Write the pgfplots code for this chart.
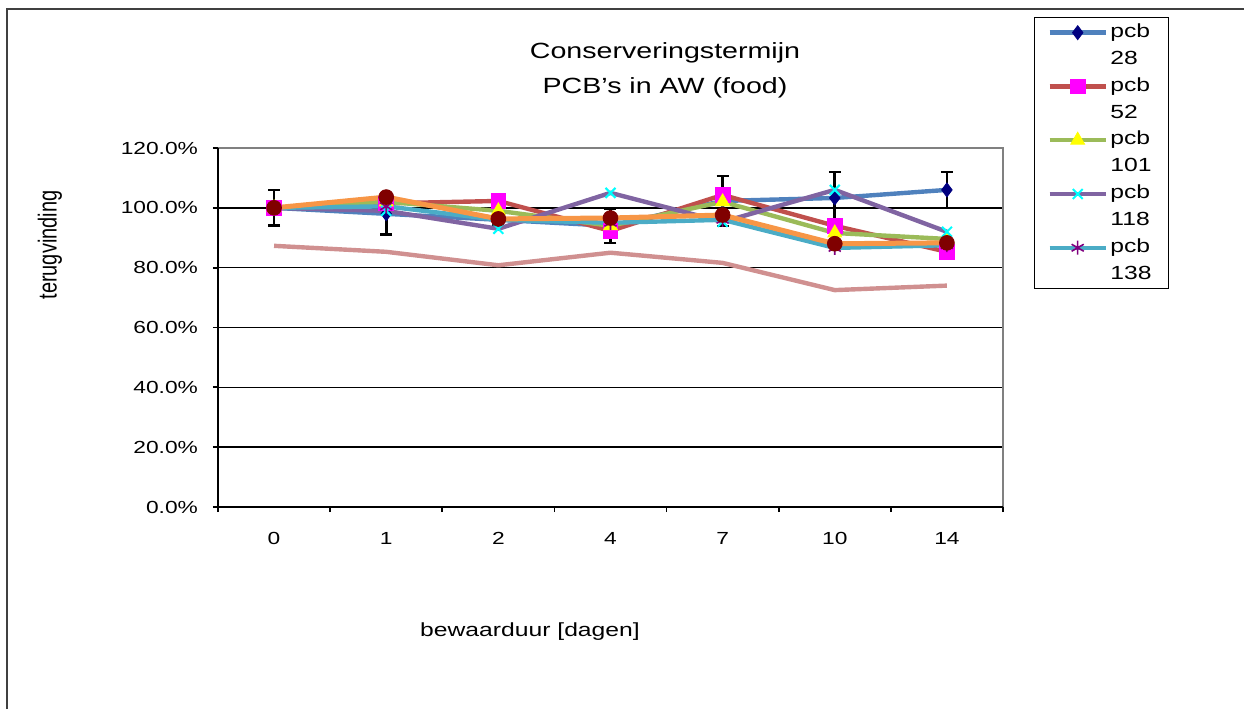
\documentclass[border=0pt]{standalone}
\usepackage{fontspec}
\setmainfont{Liberation Sans}[FakeStretch=1.3]
\newfontfamily\plainsans{Liberation Sans}
\usepackage{graphicx}
\usepackage{pgfplots}
\pgfplotsset{compat=1.18}
\definecolor{c1}{HTML}{4F81BD}
\definecolor{c2}{HTML}{C0504D}
\definecolor{c3}{HTML}{9BBB59}
\definecolor{c4}{HTML}{8064A2}
\definecolor{c5}{HTML}{4BACC6}
\definecolor{c6}{HTML}{F79646}
\definecolor{c7}{RGB}{208,144,144}
\definecolor{mnavy}{RGB}{0,0,128}
\definecolor{mmag}{RGB}{255,0,255}
\definecolor{myel}{RGB}{255,255,0}
\definecolor{mcyan}{RGB}{0,255,255}
\definecolor{mpurp}{RGB}{128,0,128}
\definecolor{mbrown}{RGB}{128,0,0}
\definecolor{bordergray}{RGB}{128,128,128}
\begin{document}
\begin{tikzpicture}
\path[use as bounding box] (0,0) rectangle (622pt,354.5pt);
\draw[black!75, line width=0.6pt] (3.5pt,0) -- (3.5pt,350pt) -- (622pt,350pt);
\begin{axis}[
  at={(109pt,101pt)}, anchor=south west,
  scale only axis, width=392.5pt, height=179.5pt,
  xmin=-0.5, xmax=6.5, ymin=0, ymax=120,
  xtick={0,...,6}, xticklabels={0,1,2,4,7,10,14},
  minor xtick={-0.5,0.5,...,6.5},
  ytick={0,20,...,120},
  yticklabels={0.0\%,20.0\%,40.0\%,60.0\%,80.0\%,100.0\%,120.0\%},
  ymajorgrids, major grid style={black, line width=0.7pt},
  axis line style={draw=none},
  tick align=outside, major tick length=2.5pt, minor tick length=2.5pt,
  tick style={black, line width=0.9pt},
  major x tick style={draw=none},
  xtick pos=bottom, ytick pos=left,
  clip=false,
  /pgf/number format/assume math mode=true,
  ticklabel style={font=\fontsize{8.75}{10}\selectfont},
  xticklabel style={yshift=-6.5pt},
  yticklabel style={xshift=-4pt},
  legend style={at={(1.0395,1.3649)}, anchor=north west, draw=black, line width=0.5pt,
    inner xsep=6.5pt, inner ysep=1pt, row sep=1pt, column sep=-0.75pt,
    font=\fontsize{9.5}{13.5}\selectfont,
    cells={anchor=base west, align=left, inner sep=0pt}},
  legend image code/.code={\draw[mark repeat=2, mark phase=2, #1] plot coordinates {(0pt,15.8pt)(14pt,15.8pt)(28pt,15.8pt)};},
]
\addplot[c1, line width=2.2pt, mark=diamond*, mark size=3.5pt,
  mark options={fill=mnavy, draw=mnavy, line width=0.4pt},
  error bars/.cd, y dir=both, y explicit,
  error bar style={black, line width=1.3pt},
  error mark options={black, line width=1.3pt, mark size=3pt, rotate=90}]
  coordinates {(0,100) +- (0,6) (1,98) +- (0,7) (2,96) +- (0,2) (3,94) +- (0,5.8)
               (4,102.3) +- (0,8.4) (5,103.3) +- (0,8.7) (6,106) +- (0,6)};
\addlegendentry{pcb\\28}
\addplot[c2, line width=2.2pt, mark=square*, mark size=3.7pt,
  mark options={fill=mmag, draw=mmag, line width=0.4pt}]
  coordinates {(0,100) (1,101.5) (2,102.3) (3,92.3) (4,104.3) (5,94) (6,85.3)};
\addlegendentry{pcb\\52}
\addplot[c3, line width=2.2pt, mark=triangle*, mark size=4pt,
  mark options={fill=myel, draw=myel, line width=0.4pt}]
  coordinates {(0,100) (1,102) (2,99) (3,94) (4,102) (5,91.6) (6,89.6)};
\addlegendentry{pcb\\101}
\addplot[c4, line width=2.2pt, mark=x, mark size=3.5pt,
  mark options={draw=mcyan, line width=1pt}]
  coordinates {(0,100) (1,99) (2,93) (3,105) (4,95.3) (5,106) (6,92)};
\addlegendentry{pcb\\118}
\addplot[c5, line width=2.2pt, mark=asterisk, mark size=3.5pt,
  mark options={draw=mpurp, line width=0.8pt}]
  coordinates {(0,100) (1,100.5) (2,96) (3,95) (4,96) (5,86.6) (6,87.5)};
\addlegendentry{pcb\\138}
\addplot[c6, line width=2.5pt, mark=*, mark size=3.7pt,
  mark options={fill=mbrown, draw=mbrown, line width=0.4pt}, forget plot]
  coordinates {(0,100) (1,103.6) (2,96.3) (3,96.6) (4,97.6) (5,88) (6,88.3)};
\addplot[c7, line width=2.2pt, no markers, forget plot]
  coordinates {(0,87.3) (1,85.3) (2,80.8) (3,85) (4,81.6) (5,72.5) (6,74)};
\draw[bordergray, line width=1.2pt] (rel axis cs:0,1) -- (rel axis cs:1,1) -- (rel axis cs:1,0);
\draw[black, line width=1pt] (rel axis cs:0,1) -- (rel axis cs:0,0) -- (rel axis cs:1,0);
\end{axis}
\node[font=\fontsize{11}{17.5}\selectfont, align=center] at (332.5pt,319.25pt) {Conserveringstermijn\\PCB's in AW (food)};
\node[font=\fontsize{9.5}{11}\selectfont] at (265pt,38.5pt) {bewaarduur [dagen]};
\node[rotate=90, inner sep=0pt] at (25pt,232pt) {\scalebox{1}[1.3]{\plainsans\fontsize{10}{12}\selectfont terugvinding}};
\end{tikzpicture}
\end{document}
